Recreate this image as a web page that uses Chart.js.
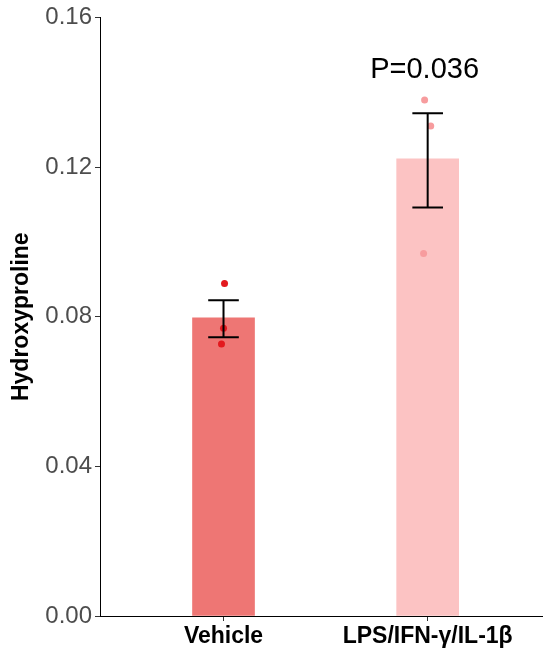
<!DOCTYPE html>
<html>
<head>
<meta charset="utf-8">
<script src="https://cdn.jsdelivr.net/npm/chart.js@4.4.0/dist/chart.umd.min.js"></script>
<style>
  html, body { margin: 0; padding: 0; background: #fff; }
  #wrap { width: 546px; height: 649px; }
</style>
</head>
<body>
<div id="wrap"><canvas id="chartContainer"></canvas></div>
<script>
// groups and their positions on the x axis
const groups = ['Vehicle', 'LPS/IFN-γ/IL-1β'];
const groupPos = [1, 2];
const barColors = ['#EE7674', '#FCC3C3'];

// mean and error bar ends
const means = [0.0797, 0.1222];
const errLow = [0.0745, 0.1092];
const errHigh = [0.0844, 0.1344];

// individual points (value + jittered x)
const vehicleValues = [0.0889, 0.0769, 0.0727];
const vehicleJitter = [1.005, 1.0, 0.99];
const lpsValues = [0.1379, 0.1310, 0.0969];
const lpsJitter = [1.985, 2.015, 1.98];

const yTicks = [0, 0.04, 0.08, 0.12, 0.16];
const pText = 'P=0.036';
const pAt = [1.985, 0.146];

const FONT = '"Liberation Sans", Arial, Helvetica, sans-serif';

// error bars + p value text
const extras = {
  id: 'extras',
  afterDatasetsDraw(chart) {
    const { ctx, scales: { x, y } } = chart;
    ctx.save();
    ctx.strokeStyle = '#000';
    ctx.lineWidth = 2;
    groupPos.forEach((g, i) => {
      const cx = x.getPixelForValue(g);
      const half = (x.getPixelForValue(g + 0.075) - cx);
      const yl = y.getPixelForValue(errLow[i]);
      const yh = y.getPixelForValue(errHigh[i]);
      ctx.beginPath();
      ctx.moveTo(cx, yl); ctx.lineTo(cx, yh);
      ctx.moveTo(cx - half, yl); ctx.lineTo(cx + half, yl);
      ctx.moveTo(cx - half, yh); ctx.lineTo(cx + half, yh);
      ctx.stroke();
    });
    ctx.fillStyle = '#000';
    ctx.font = '29px ' + FONT;
    ctx.textAlign = 'center';
    ctx.textBaseline = 'middle';
    ctx.fillText(pText, x.getPixelForValue(pAt[0]), y.getPixelForValue(pAt[1]));
    ctx.restore();
  }
};

let chartContainer = document.getElementById('chartContainer').getContext('2d');
let chart = new Chart(chartContainer, {
  type: 'bar',
  data: {
    datasets: [
      {
        type: 'scatter',
        data: vehicleValues.map((v, i) => ({ x: vehicleJitter[i], y: v })),
        backgroundColor: '#E3191E',
        borderWidth: 0,
        pointRadius: 3.5,
        order: 0
      },
      {
        type: 'scatter',
        data: lpsValues.map((v, i) => ({ x: lpsJitter[i], y: v })),
        backgroundColor: '#F79C9E',
        borderWidth: 0,
        pointRadius: 3.5,
        order: 0
      },
      {
        type: 'bar',
        data: groupPos.map((g, i) => ({ x: g, y: means[i] })),
        backgroundColor: barColors,
        barThickness: 62,
        order: 1
      }
    ]
  },
  options: {
    responsive: true,
    maintainAspectRatio: false,
    animation: false,
    layout: { padding: { top: 15, right: 0, left: 0, bottom: 0 } },
    plugins: {
      legend: { display: false },
      tooltip: { enabled: false }
    },
    scales: {
      x: {
        type: 'linear',
        offset: false,
        min: 0.395,
        max: 2.56,
        afterBuildTicks: s => { s.ticks = groupPos.map(v => ({ value: v })); },
        afterFit: s => { s.height = 33; },
        ticks: {
          callback: (v) => groups[groupPos.indexOf(v)],
          color: '#000',
          font: { family: FONT, size: 23, weight: 'bold' },
          padding: 2,
          maxRotation: 0
        },
        grid: { offset: false, drawOnChartArea: false, drawTicks: true, tickLength: 5, color: '#333' },
        border: { display: true, color: '#000', width: 1 }
      },
      y: {
        min: 0,
        max: 0.16,
        afterBuildTicks: s => { s.ticks = yTicks.map(v => ({ value: v })); },
        afterFit: s => { s.width = 100; },
        ticks: {
          callback: v => v.toFixed(2),
          color: '#4D4D4D',
          font: { family: FONT, size: 24 },
          padding: 3
        },
        grid: { drawOnChartArea: false, drawTicks: true, tickLength: 5, color: '#333' },
        border: { display: true, color: '#000', width: 1 },
        title: {
          display: true,
          text: 'Hydroxyproline',
          color: '#000',
          font: { family: FONT, size: 23, weight: 'bold' },
          padding: { top: 8, bottom: 0 }
        }
      }
    }
  },
  plugins: [extras]
});
</script>
</body>
</html>
